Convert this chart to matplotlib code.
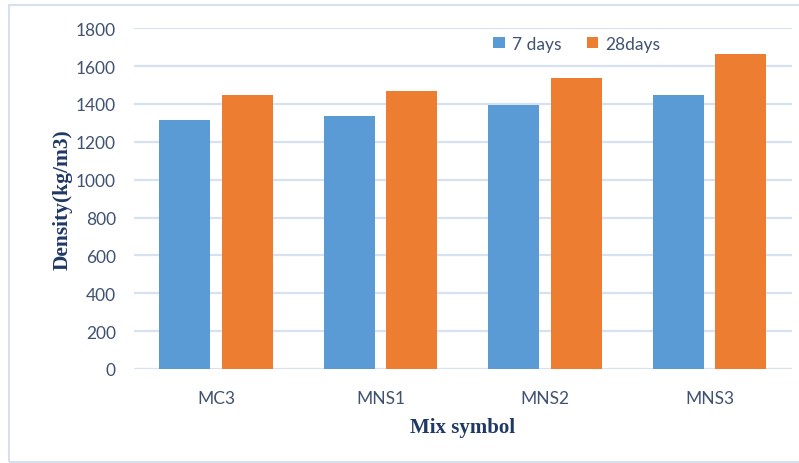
import matplotlib.pyplot as plt
import numpy as np
from matplotlib.patches import Rectangle

mixes = ["MC3", "MNS1", "MNS2", "MNS3"]
density_7 = [1315, 1335, 1395, 1450]
density_28 = [1450, 1470, 1535, 1665]
y_ticks = [0, 200, 400, 600, 800, 1000, 1200, 1400, 1600, 1800]

BLUE = "#5B9BD5"
ORANGE = "#ED7D31"
GRID = "#D6E2F2"
TICK_TEXT = "#3F5272"
LABEL_TEXT = "#1F3864"
TICK_FONT = "Lato"

fig = plt.figure(figsize=(7.99, 4.64), dpi=100)
ax = fig.add_axes([0.1677, 0.2026, 0.8235, 0.7343])

x = np.arange(len(mixes))
width = 0.31
offset = 0.19
ax.bar(x - offset, density_7, width, color=BLUE, label="7 days", zorder=3)
ax.bar(x + offset, density_28, width, color=ORANGE, label="28days", zorder=3)

ax.set_xlim(-0.5, len(mixes) - 0.5)
ax.set_ylim(0, 1800)
ax.set_yticks(y_ticks)
ax.set_xticks(x)
ax.set_xticklabels(mixes)

for v in y_ticks:
    ax.axhline(v, color=GRID, lw=1.6, zorder=1)

for side in ["top", "right", "left", "bottom"]:
    ax.spines[side].set_visible(False)
ax.tick_params(axis="both", length=0, colors=TICK_TEXT, labelsize=12.5)
ax.tick_params(axis="y", pad=13)
ax.tick_params(axis="x", pad=15)
for lbl in ax.get_xticklabels() + ax.get_yticklabels():
    lbl.set_fontfamily(TICK_FONT)

ax.set_ylabel("Density(kg/m3)", fontfamily="Liberation Serif", fontweight="bold",
              fontsize=15.5, color=LABEL_TEXT, labelpad=2)
ax.set_xlabel("Mix symbol", fontfamily="Liberation Serif", fontweight="bold",
              fontsize=15, color=LABEL_TEXT, labelpad=8)

leg = ax.legend(loc="center", bbox_to_anchor=(0.673, 0.955), ncol=2, frameon=False,
                handlelength=0.65, handleheight=0.65, handletextpad=0.4,
                columnspacing=1.5, prop={"family": TICK_FONT, "size": 12.5})
for t in leg.get_texts():
    t.set_color(TICK_TEXT)

# outer chart frame
fig.patches.append(Rectangle((8.5 / 799, 1.5 / 464), 1.0, 456.5 / 464,
                             transform=fig.transFigure, fill=False,
                             edgecolor="#D6E0EE", lw=1.5))

fig.savefig("out.png", dpi=100)
